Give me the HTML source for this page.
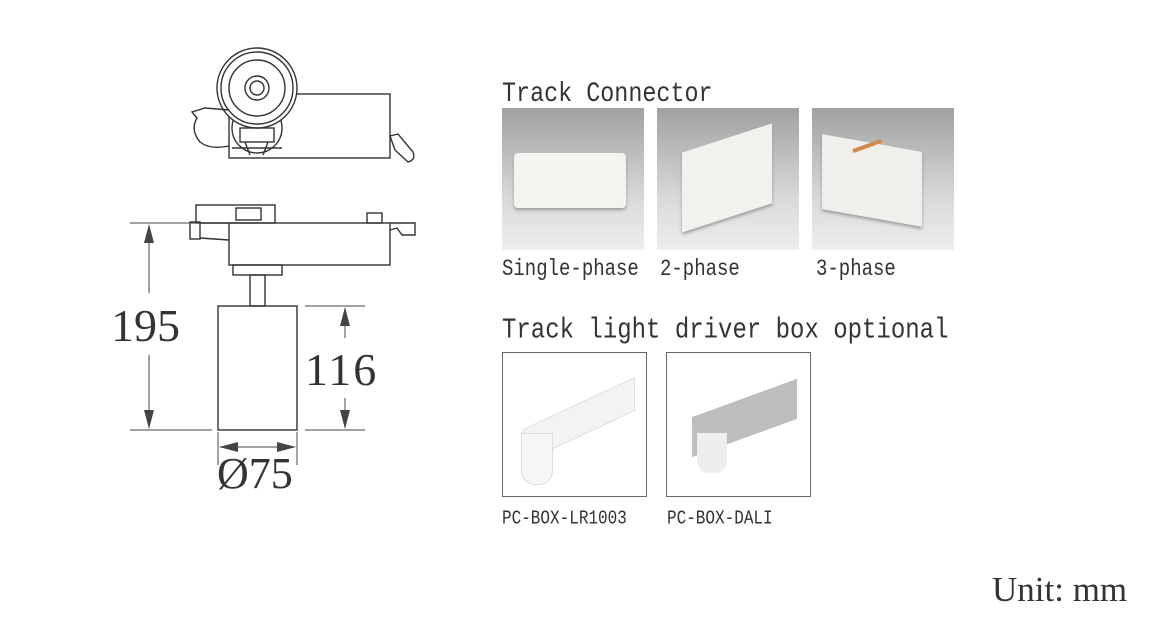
<!DOCTYPE html>
<html><head><meta charset="utf-8"><style>
html,body{margin:0;padding:0;background:#fff;width:1152px;height:633px;overflow:hidden;position:relative}
.t{position:absolute;font-family:"Liberation Mono",monospace;color:#333;white-space:nowrap;line-height:1;transform:scaleY(1.2);transform-origin:0 0}
.s{position:absolute;font-family:"Liberation Serif",serif;color:#333;white-space:nowrap;line-height:1}
.ph{position:absolute;width:142px;height:142px;background:linear-gradient(#9fa1a3,#d9dadb 65%,#eeeeee)}
.bx{position:absolute;width:143px;height:143px;border:1px solid #666;background:#fff}
</style></head><body>
<svg width="1152" height="633" style="position:absolute;left:0;top:0" fill="none" stroke="#333" stroke-width="1.4">
<rect x="229" y="94" width="161" height="64"/>
<circle cx="257" cy="128" r="25" fill="#fff"/>
<circle cx="257" cy="88" r="40" fill="#fff"/>
<circle cx="257" cy="88" r="36"/>
<circle cx="257" cy="88" r="28"/>
<circle cx="257" cy="88" r="12"/>
<circle cx="257" cy="88" r="7"/>
<rect x="240" y="128" width="34" height="14"/>
<path d="M232 148 L282 148 M245 142 L250 155 M268 142 L263 155"/>
<path d="M229 110 L205 108 L192 112 L197 118 Q190 130 200 142 Q210 150 229 146"/>
<path d="M390 136 L398 134 L413 152 Q416 160 408 162 L395 150 Z"/>
<rect x="196" y="205" width="79" height="18"/>
<rect x="236" y="208" width="25" height="12"/>
<rect x="229" y="223" width="161" height="42"/>
<rect x="190" y="222" width="10" height="17"/>
<path d="M200 223 L229 223 M200 238 L229 240"/>
<path d="M390 223 L415 223 L415 235 L402 235 L397 228 L390 230"/>
<rect x="367" y="213" width="15" height="10"/>
<rect x="233" y="265" width="49" height="10"/>
<rect x="250" y="275" width="15" height="31"/>
<rect x="218" y="306" width="79" height="124"/>
<g stroke-width="1" stroke="#444">
<path d="M130 223 L229 223 M130 430 L212 430"/>
<path d="M149 225 L149 293 M149 355 L149 428"/>
<path d="M305 306 L365 306 M305 430 L365 430"/>
<path d="M345 308 L345 338 M345 398 L345 428"/>
<path d="M218 432 L218 465 M297 432 L297 465 M220 447 L295 447"/>
</g>
<g fill="#444" stroke="none">
<path d="M149 224 L144 243 L154 243Z M149 429 L144 410 L154 410Z"/>
<path d="M345 307 L340 326 L350 326Z M345 429 L340 410 L350 410Z"/>
<path d="M219 447 L238 442 L238 452Z M296 447 L277 442 L277 452Z"/>
</g>
</svg>
<div class="s" style="left:111px;top:303px;font-size:46px">195</div>
<div class="s" style="left:305px;top:347px;font-size:46px;letter-spacing:2px">116</div>
<div class="s" style="left:217px;top:452px;font-size:44px">Ø75</div>

<div class="t" style="left:502px;top:82px;font-size:23.4px">Track Connector</div>
<div class="ph" style="left:502px;top:108px"><div style="position:absolute;left:12px;top:45px;width:112px;height:55px;background:#f4f3ef;border-radius:4px;box-shadow:0 2px 3px #999"></div></div>
<div class="ph" style="left:657px;top:108px"><div style="position:absolute;left:25px;top:30px;width:90px;height:80px;background:#f2f1ee;transform:skewY(-18deg);box-shadow:0 2px 3px #999"></div></div>
<div class="ph" style="left:812px;top:108px"><div style="position:absolute;left:10px;top:35px;width:100px;height:75px;background:#f0efec;transform:skewY(10deg);box-shadow:0 2px 3px #999"></div><div style="position:absolute;left:40px;top:36px;width:30px;height:4px;background:#d08a4a;transform:rotate(-20deg)"></div></div>
<div class="t" style="left:502px;top:258px;font-size:19px">Single-phase</div>
<div class="t" style="left:660px;top:258px;font-size:19px">2-phase</div>
<div class="t" style="left:816px;top:258px;font-size:19px">3-phase</div>

<div class="t" style="left:502px;top:317px;font-size:24px">Track light driver box optional</div>
<div class="bx" style="left:502px;top:352px">
<div style="position:absolute;left:20px;top:50px;width:110px;height:32px;background:#f3f3f3;border:1px solid #ddd;transform:skewY(-25deg)"></div>
<div style="position:absolute;left:18px;top:80px;width:30px;height:50px;background:#f6f6f6;border:1px solid #ddd;border-radius:0 0 14px 14px"></div>
</div>
<div class="bx" style="left:666px;top:352px">
<div style="position:absolute;left:25px;top:45px;width:105px;height:40px;background:#bdbdbd;transform:skewY(-20deg)"></div>
<div style="position:absolute;left:30px;top:80px;width:30px;height:40px;background:#eee;border-radius:0 0 12px 12px"></div>
</div>
<div class="t" style="left:502px;top:509px;font-size:16px">PC-BOX-LR1003</div>
<div class="t" style="left:667px;top:509px;font-size:16px">PC-BOX-DALI</div>

<div class="s" style="left:992px;top:572px;font-size:35px">Unit: mm</div>
</body></html>
